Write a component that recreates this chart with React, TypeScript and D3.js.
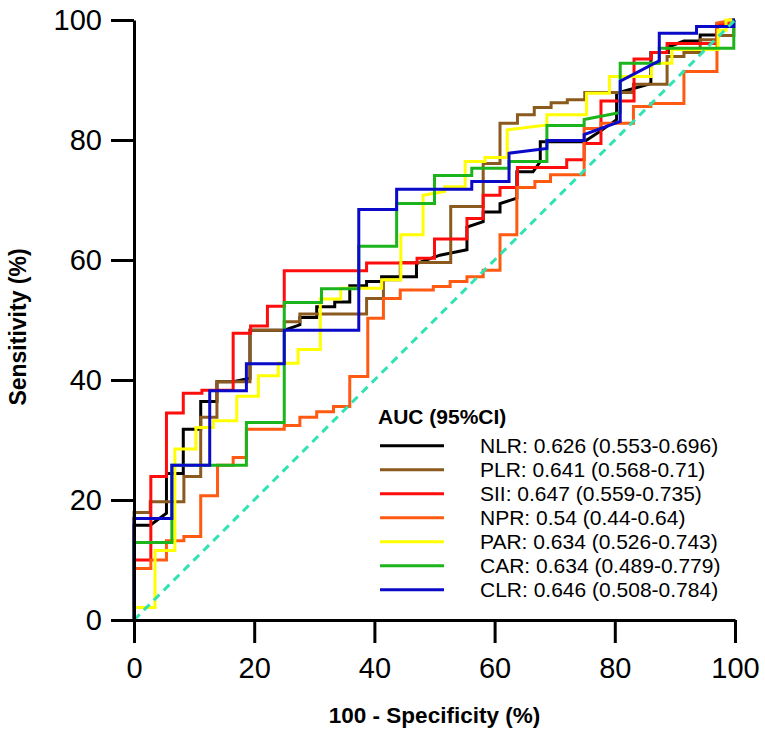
import React, {useEffect, useRef} from 'react'
import * as d3 from 'd3'

type Pt = [number, number]

// legend text, one per marker
const seriesNames = ['NLR', 'PLR', 'SII', 'NPR', 'PAR', 'CAR', 'CLR']
const aucLabels = [
  'NLR: 0.626 (0.553-0.696)',
  'PLR: 0.641 (0.568-0.71)',
  'SII: 0.647 (0.559-0.735)',
  'NPR: 0.54 (0.44-0.64)',
  'PAR: 0.634 (0.526-0.743)',
  'CAR: 0.634 (0.489-0.779)',
  'CLR: 0.646 (0.508-0.784)',
]
const xTicks = [0, 20, 40, 60, 80, 100]
const yTicks = [0, 20, 40, 60, 80, 100]

// ROC points: [100 - specificity, sensitivity]
const nlrPoints: Pt[] = [
  [0, 0], [0, 15.8], [2.7, 15.8], [5.4, 17.8], [5.4, 24.4], [8.2, 24.4], [8.2, 31.8],
  [11.1, 31.8], [11.1, 36.4], [13.8, 36.4], [13.8, 39.7], [16.5, 39.7], [19.3, 40.3],
  [19.3, 48.3], [25, 48.3], [27.6, 49.2], [27.6, 50.4], [30.4, 50.4], [30.4, 52.2],
  [33.4, 52.2], [33.4, 53], [35.9, 53], [35.9, 55.7], [38.7, 55.7], [38.7, 56.4],
  [41.2, 56.4], [41.2, 57.2], [47, 57.2], [47, 59.4], [50.9, 60.8], [55.4, 61.7],
  [55.4, 65.5], [58.1, 66.4], [58.1, 68], [60.9, 68], [60.9, 69.4], [63.7, 70.3],
  [63.7, 74.7], [66.4, 74.7], [67.6, 76.4], [67.6, 79.7], [74.9, 79.7], [77.5, 81.4],
  [80.3, 83.4], [80.3, 87.8], [86, 89.4], [86, 94.6], [88.9, 94.6], [88.9, 95.5],
  [91.5, 96.5], [94.2, 96.5], [94.2, 97.5], [97, 97.5], [97, 99.2], [100, 100],
]
const plrPoints: Pt[] = [
  [0, 0], [0, 17.9], [2.7, 17.9], [2.7, 19.7], [8.3, 19.7], [8.3, 23.9], [11.1, 23.9],
  [11.1, 33.8], [13.8, 33.8], [13.8, 39.7], [19.3, 39.7], [19.3, 48.3], [25, 48.3],
  [25, 49.7], [27.6, 49.7], [27.6, 51], [38.7, 51], [38.7, 53.6], [41.5, 53.6],
  [41.5, 56.7], [44.3, 56.7], [44.3, 59.6], [52.7, 59.6], [52.7, 68.9], [58.1, 68.9],
  [58.1, 76.1], [60.9, 76.1], [60.9, 82.8], [63.8, 82.8], [63.8, 84.2], [66.6, 84.2],
  [66.6, 85.4], [69.4, 85.4], [69.4, 86.2], [72.1, 86.2], [72.1, 86.7], [75, 86.7],
  [75, 87.9], [83.1, 87.9], [83.1, 89.3], [88.7, 89.3], [88.7, 93.9], [91.5, 93.9],
  [91.5, 94.6], [94.2, 94.6], [94.2, 96.7], [97, 96.7], [97, 97.4], [99.8, 97.4],
  [99.8, 100], [100, 100],
]
const siiPoints: Pt[] = [
  [0, 0], [0, 10], [2.8, 10], [2.8, 23.9], [5.4, 23.9], [5.4, 34.5], [8.2, 34.5],
  [8.2, 37.8], [11.3, 37.8], [11.3, 38.3], [16.5, 38.3], [16.5, 47.8], [19.4, 47.8],
  [19.4, 49], [22.2, 49], [22.2, 52.3], [25, 52.3], [25, 58.2], [38.7, 58.2],
  [38.7, 59.5], [47.1, 59.5], [47.1, 60.3], [50, 60.3], [50, 63.5], [55.4, 63.5],
  [55.4, 66.9], [58.1, 66.9], [58.1, 70.8], [60.9, 70.8], [60.9, 72.1], [63.8, 72.1],
  [63.8, 75.4], [72, 75.4], [72, 76.7], [74.9, 76.7], [74.9, 79.4], [77.7, 79.4],
  [77.7, 86.5], [83.2, 86.5], [83.2, 93.5], [86.1, 93.5], [86.1, 94.6], [88.7, 94.6],
  [88.7, 96.1], [97, 96.1], [97, 99.4], [99.2, 99.4], [99.2, 100], [100, 100],
]
const nprPoints: Pt[] = [
  [0, 0], [0, 8.6], [2.8, 8.6], [2.8, 10], [5.4, 10], [5.4, 13.2], [8.3, 13.2],
  [8.3, 13.9], [11.1, 13.9], [11.1, 20.7], [13.9, 20.7], [13.9, 25.8], [16.5, 25.8],
  [16.5, 27.1], [18.7, 27.1], [18.7, 31.8], [25, 31.8], [25, 32.4], [27.6, 32.4],
  [27.6, 33.8], [30.4, 33.8], [30.4, 34.7], [33.2, 34.7], [33.2, 35.6], [35.9, 35.6],
  [35.9, 40.6], [38.9, 40.6], [38.9, 50.3], [41.5, 50.3], [41.5, 53.6], [44.3, 53.6],
  [44.3, 55], [49.8, 55], [49.8, 55.6], [52.6, 55.6], [52.6, 56.4], [55.4, 56.4],
  [55.4, 57.2], [58.1, 57.2], [58.1, 58.3], [60.9, 58.3], [60.9, 64.2], [63.7, 64.2],
  [63.7, 72.1], [66.7, 72.1], [66.7, 73.1], [69.3, 73.1], [69.3, 74.2], [74.9, 74.2],
  [74.9, 81.9], [77.7, 81.9], [77.7, 82.8], [83.1, 82.8], [83.1, 85.6], [86, 85.6],
  [86, 86.1], [91.5, 86.1], [91.5, 91.4], [97, 91.4], [97, 99.5], [100, 100],
]
const parPoints: Pt[] = [
  [0, 0], [0, 2.1], [3.5, 2.1], [3.5, 11.6], [6.8, 11.6], [6.8, 28.5], [10.3, 28.5],
  [10.3, 32.1], [13.2, 32.1], [13.2, 33.2], [17.1, 33.2], [17.1, 37.3], [20.7, 37.3],
  [20.7, 40.7], [24, 40.7], [24, 42.8], [27.3, 42.8], [27.3, 45.1], [31, 45.1],
  [31, 53.5], [34.4, 53.5], [34.4, 55.3], [41.2, 55.3], [41.2, 56.7], [44.4, 56.7],
  [44.4, 64.2], [48.1, 64.2], [48.1, 70.8], [51.7, 71.4], [51.7, 72.2], [55.1, 72.2],
  [55.1, 76.4], [58.4, 76.4], [58.4, 77.1], [62.1, 77.1], [62.1, 81.7], [68.7, 82.5],
  [68.7, 84.2], [75.3, 84.2], [75.3, 87.8], [79.1, 87.8], [79.1, 90.6], [86.1, 90.6],
  [86.1, 92.8], [89.5, 92.8], [89.5, 95.1], [97.2, 95.1], [97.2, 98.3], [98.5, 98.3],
  [98.5, 100], [100, 100],
]
const carPoints: Pt[] = [
  [0, 0], [0, 12.9], [6.3, 12.9], [6.3, 25.8], [18.7, 25.8], [18.7, 32.9], [25, 32.9],
  [25, 52.9], [31.2, 52.9], [31.2, 55.2], [37.4, 55.2], [37.4, 62.3], [43.7, 62.3],
  [43.7, 69.4], [50, 69.4], [50, 74.1], [56.2, 74.1], [56.2, 75.3], [62.4, 75.3],
  [62.4, 76.4], [68.7, 76.4], [68.7, 82.4], [74.9, 82.4], [74.9, 83.4], [80.9, 84.6],
  [80.9, 92.8], [87.4, 92.8], [87.4, 95.3], [99.8, 95.3], [99.8, 100], [100, 100],
]
const clrPoints: Pt[] = [
  [0, 0], [0, 16.9], [6.3, 16.9], [6.3, 25.8], [12.6, 25.8], [12.6, 38.2], [18.7, 38.2],
  [18.7, 42.7], [25, 42.7], [25, 48.3], [37.4, 48.3], [37.4, 68.4], [43.7, 68.4],
  [43.7, 71.8], [56.2, 71.8], [56.2, 73.1], [62.4, 73.1], [62.4, 77.8], [68.7, 78.6],
  [68.7, 79.9], [74.9, 79.9], [74.9, 80.9], [80.9, 83.1], [80.9, 89.8], [87.4, 93.2],
  [87.4, 97.8], [93.6, 97.8], [93.6, 98.9], [99.8, 98.9], [99.8, 100], [100, 100],
]
const refLine: Pt[] = [[0, 0], [100, 100]]

const allSeries = [nlrPoints, plrPoints, siiPoints, nprPoints, parPoints, carPoints, clrPoints]
const seriesColors = ['#000000', '#8b5a1e', '#ff0c0c', '#ff5a12', '#ffff00', '#1cb41c', '#0a0ac8']

const font = '"Liberation Sans", Arial, sans-serif'

export default function App() {
  const ref = useRef<SVGSVGElement>(null)

  useEffect(() => {
    const svg = d3.select(ref.current)
    svg.selectAll('*').remove()

    const x = d3.scaleLinear().domain([0, 100]).range([134, 735])
    const y = d3.scaleLinear().domain([0, 100]).range([620, 20])

    const line = d3
      .line<Pt>()
      .x(d => x(d[0]))
      .y(d => y(d[1]))

    // curves, later ones on top
    svg
      .append('g')
      .selectAll('path')
      .data(allSeries)
      .join('path')
      .attr('d', d => line(d))
      .attr('fill', 'none')
      .attr('stroke', (d, i) => seriesColors[i])
      .attr('stroke-width', 3)
      .attr('stroke-linejoin', 'miter')

    // chance line
    svg
      .append('path')
      .attr('d', line(refLine))
      .attr('fill', 'none')
      .attr('stroke', '#2fe3b2')
      .attr('stroke-width', 3)
      .attr('stroke-dasharray', '8,6')

    const xAxis = svg
      .append('g')
      .attr('transform', `translate(0,${y(0)})`)
      .call(d3.axisBottom(x).tickValues(xTicks).tickSize(23).tickSizeOuter(0).tickPadding(14))
    const yAxis = svg
      .append('g')
      .attr('transform', `translate(${x(0)},0)`)
      .call(d3.axisLeft(y).tickValues(yTicks).tickSize(23).tickSizeOuter(0).tickPadding(9))

    ;[xAxis, yAxis].forEach(ax => {
      ax.attr('font-size', 29).attr('font-family', font)
      ax.selectAll('path, line').attr('stroke', '#000').attr('stroke-width', 3)
      ax.selectAll('text').attr('fill', '#000')
    })

    // axis titles
    svg
      .append('text')
      .attr('x', (x(0) + x(100)) / 2)
      .attr('y', 723)
      .attr('text-anchor', 'middle')
      .attr('font-family', font)
      .attr('font-weight', 'bold')
      .attr('font-size', 22.5)
      .text('100 - Specificity (%)')
    svg
      .append('text')
      .attr('transform', `translate(26,327) rotate(-90)`)
      .attr('text-anchor', 'middle')
      .attr('font-family', font)
      .attr('font-weight', 'bold')
      .attr('font-size', 23)
      .text('Sensitivity (%)')

    // legend
    const legend = svg.append('g').attr('font-family', font)
    legend
      .append('text')
      .attr('x', 378)
      .attr('y', 424)
      .attr('font-weight', 'bold')
      .attr('font-size', 21)
      .text('AUC (95%CI)')
    const rows = legend
      .selectAll('g.row')
      .data(seriesNames)
      .join('g')
      .attr('class', 'row')
      .attr('transform', (d, i) => `translate(0,${445.7 + i * 24})`)
    rows
      .append('line')
      .attr('x1', 380)
      .attr('x2', 444)
      .attr('stroke', (d, i) => seriesColors[i])
      .attr('stroke-width', 3)
    rows
      .append('text')
      .attr('x', 480)
      .attr('y', 7.6)
      .attr('font-size', 21)
      .text((d, i) => aucLabels[i])
  }, [])

  return (
    <svg
      ref={ref}
      width={765}
      height={741}
      style={{position: 'absolute', left: 0, top: 0, background: '#fff'}}
    />
  )
}
